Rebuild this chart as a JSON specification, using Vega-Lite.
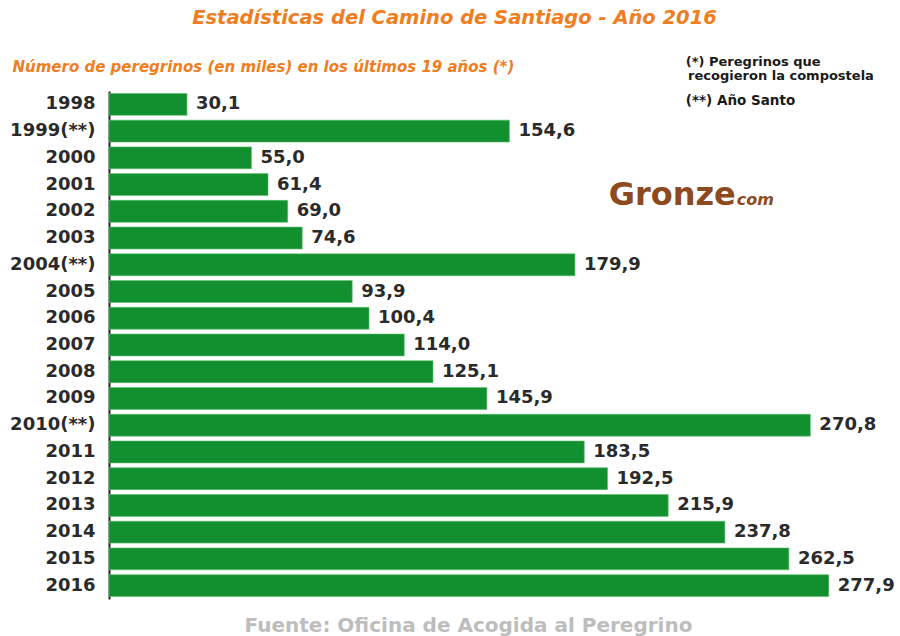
{
  "$schema": "https://vega.github.io/schema/vega-lite/v6.json",
  "width": 777,
  "height": 508,
  "autosize": "none",
  "padding": {"left": 109, "top": 91, "right": 14, "bottom": 37},
  "background": "white",
  "config": {
    "view": {"stroke": null},
    "font": "DejaVu Sans",
    "locale": {"number": {"decimal": ",", "thousands": ".", "grouping": [3], "currency": ["", " €"]}}
  },
  "title": {
    "text": "Estadísticas del Camino de Santiago - Año 2016",
    "font": "DejaVu Sans",
    "fontSize": 19.5,
    "fontWeight": "bold",
    "fontStyle": "italic",
    "color": "#f07d1e",
    "anchor": "middle",
    "frame": "group",
    "dx": -43,
    "offset": 28
  },
  "layer": [
    {
      "data": {
        "values": [
          {"year": "1998", "value": 30.1},
          {"year": "1999(**)", "value": 154.6},
          {"year": "2000", "value": 55.0},
          {"year": "2001", "value": 61.4},
          {"year": "2002", "value": 69.0},
          {"year": "2003", "value": 74.6},
          {"year": "2004(**)", "value": 179.9},
          {"year": "2005", "value": 93.9},
          {"year": "2006", "value": 100.4},
          {"year": "2007", "value": 114.0},
          {"year": "2008", "value": 125.1},
          {"year": "2009", "value": 145.9},
          {"year": "2010(**)", "value": 270.8},
          {"year": "2011", "value": 183.5},
          {"year": "2012", "value": 192.5},
          {"year": "2013", "value": 215.9},
          {"year": "2014", "value": 237.8},
          {"year": "2015", "value": 262.5},
          {"year": "2016", "value": 277.9}
        ]
      },
      "encoding": {
        "y": {
          "field": "year",
          "type": "nominal",
          "sort": null,
          "scale": {"paddingInner": 0.18, "paddingOuter": 0.09},
          "axis": {
            "title": "Número de peregrinos (en miles) en los últimos 19 años (*)",
            "titleAngle": 0,
            "titleAlign": "left",
            "titleBaseline": "alphabetic",
            "titleX": -97,
            "titleY": -20,
            "titleFont": "DejaVu Sans",
            "titleFontSize": 15,
            "titleFontWeight": "bold",
            "titleFontStyle": "italic",
            "titleColor": "#f07d1e",
            "labelFont": "DejaVu Sans",
            "labelFontSize": 18,
            "labelFontWeight": "bold",
            "labelColor": "#2a2a2a",
            "labelPadding": 14,
            "ticks": false,
            "domain": true,
            "domainColor": "#222222",
            "domainWidth": 2,
            "grid": false
          }
        },
        "x": {
          "field": "value",
          "type": "quantitative",
          "scale": {"domain": [0, 300], "nice": false},
          "axis": {
            "title": "Fuente: Oficina de Acogida al Peregrino",
            "titleFont": "DejaVu Sans",
            "titleFontSize": 20,
            "titleFontWeight": "bold",
            "titleColor": "#bdbdbd",
            "titleX": 359,
            "titlePadding": 16,
            "labels": false,
            "ticks": false,
            "domain": false,
            "grid": false
          }
        }
      },
      "layer": [
        {
          "mark": {"type": "bar", "color": "#12902f", "stroke": "#5cc06e", "strokeWidth": 0.6}
        },
        {
          "mark": {"type": "text", "align": "left", "baseline": "middle", "dx": 9, "font": "DejaVu Sans", "fontSize": 18, "fontWeight": "bold", "fill": "#2a2a2a"},
          "encoding": {"text": {"field": "value", "type": "quantitative", "format": ".1f"}}
        }
      ]
    },
    {
      "data": {"values": [{"t": "(*)  Peregrinos que", "x": 222.7, "year": "1998"}]},
      "mark": {"type": "text", "align": "left", "baseline": "alphabetic", "dy": -38, "font": "DejaVu Sans", "fontSize": 13, "fontWeight": "bold", "fill": "#1a1a1a"},
      "encoding": {
        "x": {"field": "x", "type": "quantitative"},
        "y": {"field": "year", "type": "nominal", "sort": null},
        "text": {"field": "t"}
      }
    },
    {
      "data": {"values": [{"t": "recogieron la compostela", "x": 223.6, "year": "1998"}]},
      "mark": {"type": "text", "align": "left", "baseline": "alphabetic", "dy": -24, "font": "DejaVu Sans", "fontSize": 13, "fontWeight": "bold", "fill": "#1a1a1a"},
      "encoding": {
        "x": {"field": "x", "type": "quantitative"},
        "y": {"field": "year", "type": "nominal", "sort": null},
        "text": {"field": "t"}
      }
    },
    {
      "data": {"values": [{"t": "(**) Año Santo", "x": 222.7, "year": "1998"}]},
      "mark": {"type": "text", "align": "left", "baseline": "alphabetic", "dy": 1, "font": "DejaVu Sans", "fontSize": 13.5, "fontWeight": "bold", "fill": "#1a1a1a"},
      "encoding": {
        "x": {"field": "x", "type": "quantitative"},
        "y": {"field": "year", "type": "nominal", "sort": null},
        "text": {"field": "t"}
      }
    },
    {
      "data": {"values": [{"t": "Gronze", "x": 242, "year": "2002"}]},
      "mark": {"type": "text", "align": "right", "baseline": "alphabetic", "dy": -6, "font": "DejaVu Sans", "fontSize": 32, "fontWeight": "bold", "fill": "#8c4a1e"},
      "encoding": {
        "x": {"field": "x", "type": "quantitative"},
        "y": {"field": "year", "type": "nominal", "sort": null},
        "text": {"field": "t"}
      }
    },
    {
      "data": {"values": [{"t": "com", "x": 242.4, "year": "2002"}]},
      "mark": {"type": "text", "align": "left", "baseline": "alphabetic", "dy": -6, "font": "DejaVu Sans", "fontSize": 16, "fontWeight": "bold", "fontStyle": "italic", "fill": "#8c4a1e"},
      "encoding": {
        "x": {"field": "x", "type": "quantitative"},
        "y": {"field": "year", "type": "nominal", "sort": null},
        "text": {"field": "t"}
      }
    }
  ]
}
